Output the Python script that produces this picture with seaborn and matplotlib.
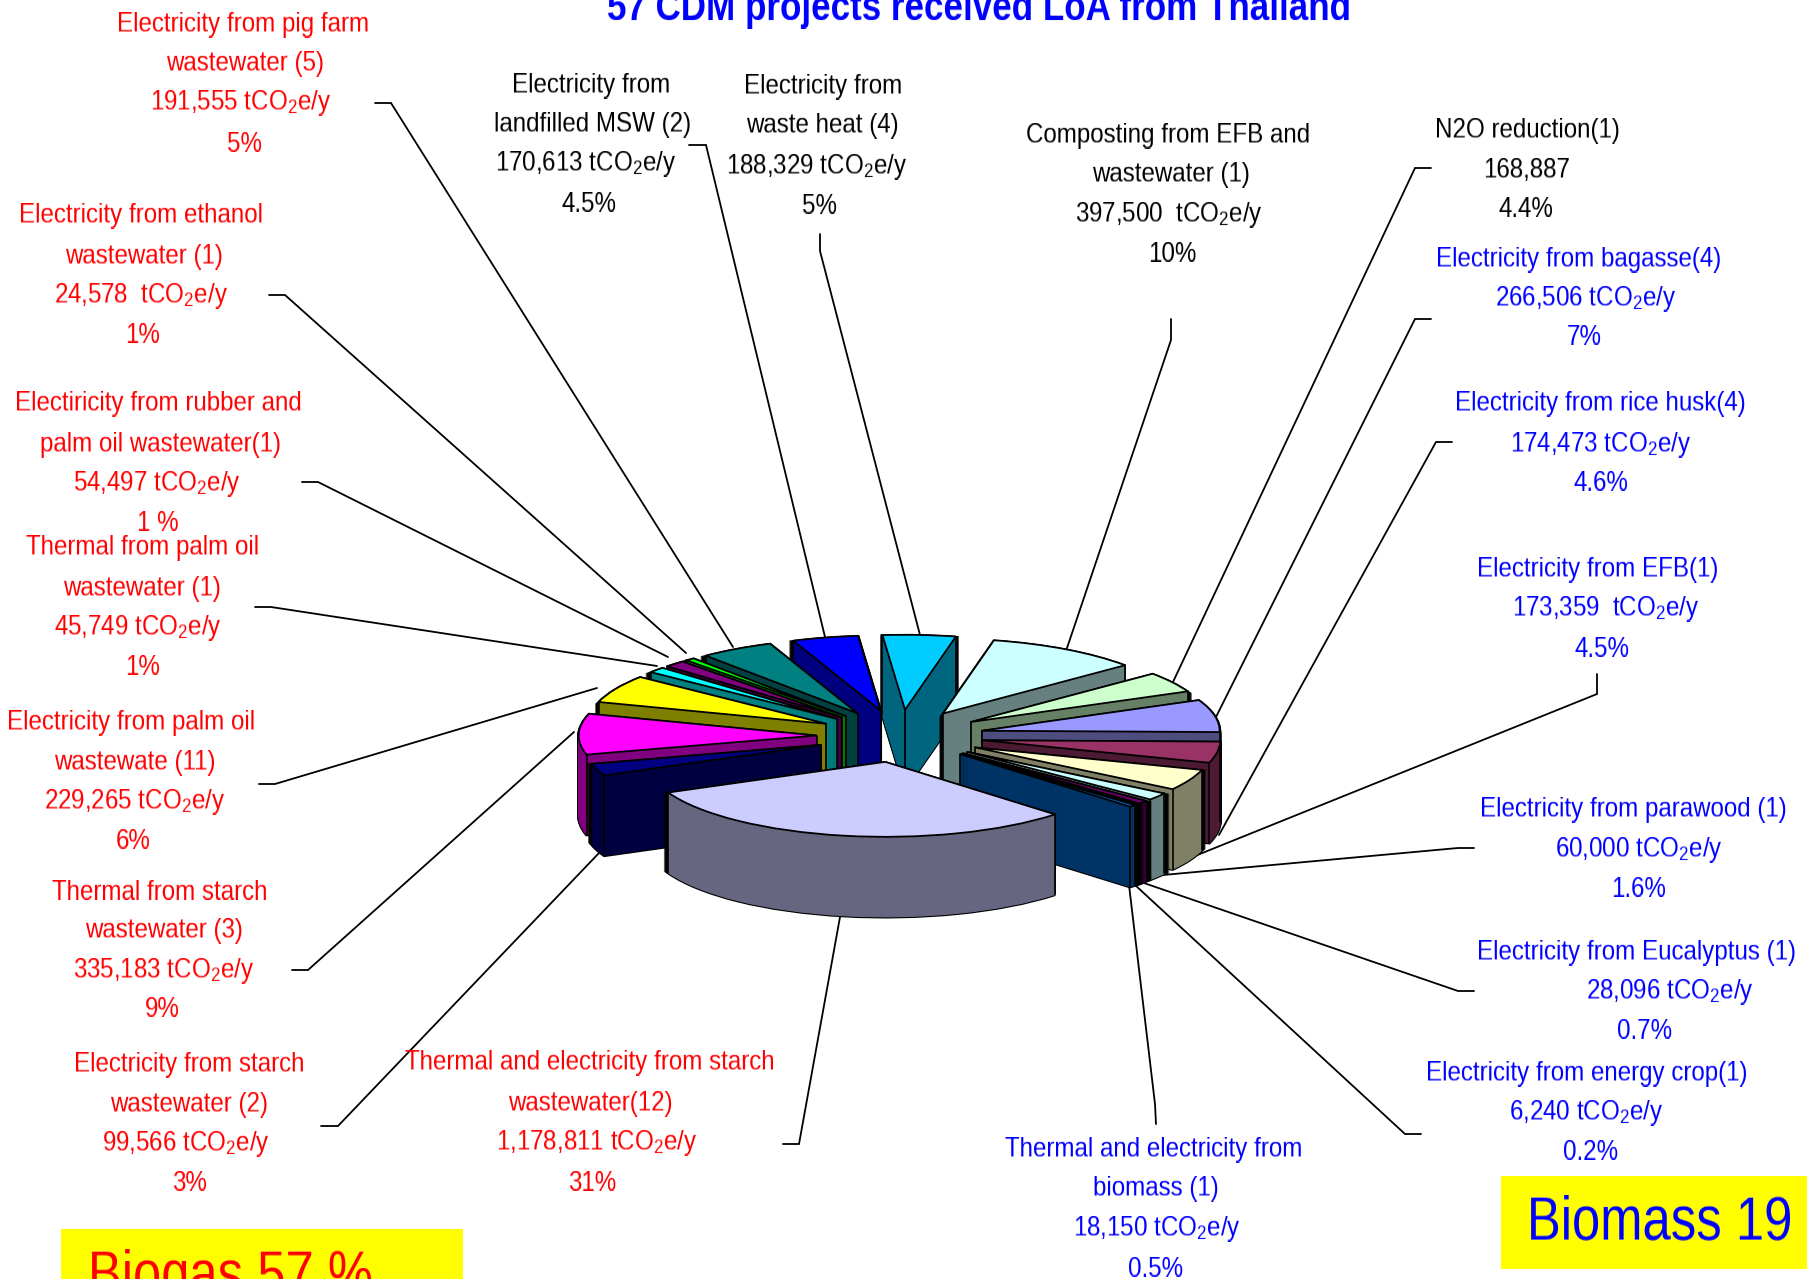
import math
import matplotlib
matplotlib.use("Agg")
import matplotlib.pyplot as plt
from matplotlib.patches import Rectangle
import numpy as np
import seaborn as sns

# ---------- data (counter-clockwise from the big slice's right edge) ----------
categories = ["Thermal and electricity from biomass", "Electricity from energy crop",
              "Electricity from Eucalyptus", "Electricity from parawood", "Electricity from EFB",
              "Electricity from rice husk", "Electricity from bagasse", "N2O reduction",
              "Composting from EFB and wastewater", "Electricity from waste heat",
              "Electricity from landfilled MSW", "Electricity from pig farm wastewater",
              "Electricity from ethanol wastewater", "Electricity from rubber and palm oil wastewater",
              "Thermal from palm oil wastewater", "Electricity from palm oil wastewate",
              "Thermal from starch wastewater", "Electricity from starch wastewater",
              "Thermal and electricity from starch wastewater"]
values = [18150, 6240, 28096, 60000, 173359, 174473, 266506, 168887, 397500, 188329,
          170613, 191555, 24578, 54497, 45749, 229265, 335183, 99566, 1178811]
top_colors = ["#0066CC", "#FF8080", "#660066", "#CCFFFF", "#FFFFCC", "#993366", "#9999FF", "#CCFFCC",
              "#CCFFFF", "#00CCFF", "#0000FF", "#008080", "#00FF00", "#800080", "#00FFFF", "#FFFF00",
              "#FF00FF", "#000080", "#CCCCFF"]

labels_red = [
    ["Electricity from pig farm", "wastewater (5)", "191,555 tCO$_2$e/y", "5%"],
    ["Electricity from ethanol", "wastewater (1)", "24,578  tCO$_2$e/y", "1%"],
    ["Electiricity from rubber and", "palm oil wastewater(1)", "54,497 tCO$_2$e/y", "1 %"],
    ["Thermal from palm oil", "wastewater (1)", "45,749 tCO$_2$e/y", "1%"],
    ["Electricity from palm oil", "wastewate (11)", "229,265 tCO$_2$e/y", "6%"],
    ["Thermal from starch", "wastewater (3)", "335,183 tCO$_2$e/y", "9%"],
    ["Electricity from starch", "wastewater (2)", "99,566 tCO$_2$e/y", "3%"],
    ["Thermal and electricity from starch", "wastewater(12)", "1,178,811 tCO$_2$e/y", "31%"],
]
labels_black = [
    ["Electricity from", "landfilled MSW (2)", "170,613 tCO$_2$e/y", "4.5%"],
    ["Electricity from", "waste heat (4)", "188,329 tCO$_2$e/y", "5%"],
    ["Composting from EFB and", "wastewater (1)", "397,500  tCO$_2$e/y", "10%"],
    ["N2O reduction(1)", "168,887", "4.4%"],
]
labels_blue = [
    ["Electricity from bagasse(4)", "266,506 tCO$_2$e/y", "7%"],
    ["Electricity from rice husk(4)", "174,473 tCO$_2$e/y", "4.6%"],
    ["Electricity from EFB(1)", "173,359  tCO$_2$e/y", "4.5%"],
    ["Electricity from parawood (1)", "60,000 tCO$_2$e/y", "1.6%"],
    ["Electricity from Eucalyptus (1)", "28,096 tCO$_2$e/y", "0.7%"],
    ["Electricity from energy crop(1)", "6,240 tCO$_2$e/y", "0.2%"],
    ["Thermal and electricity from", "biomass (1)", "18,150 tCO$_2$e/y", "0.5%"],
]
title_text = "57 CDM projects received LoA from Thailand"
biogas_text = "Biogas 57 %"
biomass_text = "Biomass 19"

# ---------- layout (pixels of the 1568-wide view: centre x, centre y per line) ----------
pos_red = [
    [(211, 20), (213, 54), (209, 88), (212, 123)],
    [(122, 186), (125, 221), (122, 255), (124, 289)],
    [(137, 349), (139, 384), (136, 418), (137, 452)],
    [(124, 474), (123, 509), (120, 543), (124, 577)],
    [(114, 626), (117, 660), (117, 694), (116, 728)],
    [(139, 772), (142, 806), (142, 841), (141, 874)],
    [(164, 922), (164, 957), (161, 991), (164, 1025)],
    [(512, 921), (512, 956), (518, 990), (514, 1025)],
]
pos_black = [
    [(513, 73), (514, 107), (508, 141), (511, 175)],
    [(714, 74), (714, 108), (709, 143), (711, 177)],
    [(1014, 116), (1016, 150), (1014, 185), (1017, 219)],
    [(1325, 112), (1325, 146), (1324, 180)],
]
pos_blue = [
    [(1370, 224), (1376, 258), (1375, 291)],
    [(1389, 349), (1389, 384), (1389, 417)],
    [(1386, 493), (1393, 527), (1390, 561)],
    [(1417, 701), (1422, 736), (1422, 770)],
    [(1420, 825), (1449, 859), (1427, 893)],
    [(1377, 930), (1376, 964), (1380, 998)],
    [(1001, 996), (1003, 1030), (1004, 1065), (1003, 1099)],
]
# leader lines in full-size pixels
leaders = [
    [(375, 103), (391, 103), (733, 647)],
    [(269, 295), (285, 295), (686, 653)],
    [(302, 482), (318, 482), (668, 657)],
    [(255, 607), (271, 607), (657, 666)],
    [(259, 784), (275, 784), (597, 688)],
    [(292, 970), (308, 970), (574, 732)],
    [(321, 1126), (338, 1126), (599, 853)],
    [(783, 1144), (799, 1144), (840, 917)],
    [(689, 145), (706, 145), (825, 637)],
    [(820, 234), (820, 251), (920, 635)],
    [(1171, 319), (1171, 340), (1066, 651)],
    [(1431, 168), (1415, 168), (1173, 682)],
    [(1431, 319), (1415, 319), (1216, 717)],
    [(1452, 442), (1436, 442), (1219, 835)],
    [(1597, 674), (1597, 694), (1175, 864)],
    [(1474, 848), (1458, 848), (1152, 876)],
    [(1474, 991), (1458, 991), (1141, 882)],
    [(1421, 1134), (1405, 1134), (1135, 885)],
    [(1156, 1124), (1155, 1104), (1129, 885)],
]

W, H = 1807, 1279
SCALE = W / 1568
CX, CY, RX, RY, DEPTH = 900.0, 736.0, 238.0, 75.0, 80
EXPLODE = 0.35
START_ANGLE = 315.5
FONT = "Liberation Sans"

sns.set_theme(style="white")
plt.rcParams["font.family"] = [FONT, "DejaVu Sans"]
plt.rcParams["mathtext.default"] = "regular"


def tall(factor, anchor="center"):
    """agg filter: the reference's type is condensed, so stretch the drawn text vertically."""
    def _filter(img, dpi):
        h = img.shape[0]
        new_h = int(round(h * factor))
        src = np.clip((np.arange(new_h) + 0.5) / factor - 0.5, 0, h - 1)
        low = np.floor(src).astype(int)
        high = np.clip(low + 1, 0, h - 1)
        w = (src - low)[:, None, None]
        out = np.clip(img[low] * (1 - w) + img[high] * w, 0, 1)
        if anchor == "top":
            return out[:h], 0, 0
        if anchor == "bottom":
            return out[-h:], 0, 0
        return out, 0, -(new_h - h) // 2
    return _filter


palette_top = sns.color_palette(top_colors)
palette_side = [tuple(c * 0.5 for c in col) for col in palette_top]

fig = plt.figure(figsize=(W / 100, H / 100), dpi=100, facecolor="white")
ax_px = fig.add_axes([0, 0, 1, 1], zorder=0)
ax_px.set_xlim(0, W)
ax_px.set_ylim(H, 0)
ax_px.axis("off")

# leaders
for pts in leaders:
    ax_px.plot([p[0] for p in pts], [p[1] for p in pts], color="black", lw=1.3, solid_joinstyle="miter")


# labels
def draw_labels(groups, positions, colour):
    for lines, coords in zip(groups, positions):
        for line, (x, y) in zip(lines, coords):
            t = ax_px.text(x * SCALE, y * SCALE + 2, line, color=colour, fontsize=17.4, ha="center", va="center")
            t.set_agg_filter(tall(1.16))


draw_labels(labels_red, pos_red, "#FF0000")
draw_labels(labels_black, pos_black, "#000000")
draw_labels(labels_blue, pos_blue, "#0000FF")

t = ax_px.text(979, 22, title_text, color="#0000FF", fontsize=25.2, fontweight="bold", ha="center", va="baseline")
t.set_agg_filter(tall(1.19, "bottom"))

ax_px.add_patch(Rectangle((61, 1229), 402, 60, facecolor="#FFFF00", edgecolor="none"))
ax_px.add_patch(Rectangle((1501, 1176), 306, 93, facecolor="#FFFF00", edgecolor="none"))
t = ax_px.text(88, 1287, biogas_text, color="#FF0000", fontsize=36.5, ha="left", va="baseline")
t.set_agg_filter(tall(1.18, "top"))
t = ax_px.text(1527, 1236, biomass_text, color="#0000FF", fontsize=36.5, ha="left", va="baseline")
t.set_agg_filter(tall(1.18))

# pie: layered ax.pie calls in a squashed data space
ax = fig.add_axes([0, 0, 1, 1], zorder=1)
ax.patch.set_alpha(0)
total = float(sum(values))
fracs = [v / total for v in values]
mids, a = [], START_ANGLE
for f in fracs:
    mids.append(a + f * 180.0)
    a += f * 360.0
order = sorted(range(len(values)), key=lambda i: -math.sin(math.radians(mids[i])))
rank = {idx: r for r, idx in enumerate(order)}
explode = [EXPLODE] * len(values)


def layer(d, colours, **kw):
    wedges, _ = ax.pie(values, explode=explode, colors=colours, startangle=START_ANGLE,
                       center=(0, -d / RY), radius=1.0, labeldistance=None, **kw)
    return wedges


for d in range(DEPTH, 0, -1):
    for i, w in enumerate(layer(d, ["black"] * len(values),
                                wedgeprops=dict(edgecolor="black", linewidth=2.4))):
        w.set_zorder(10 + rank[i] * 10)
    for i, w in enumerate(layer(d, palette_side, wedgeprops=dict(linewidth=0.8))):
        w.set_edgecolor(palette_side[i])
        w.set_zorder(11 + rank[i] * 10)

top = layer(0, palette_top, wedgeprops=dict(edgecolor="black", linewidth=1.3, joinstyle="miter"))
for i, w in enumerate(top):
    w.set_zorder(13 + rank[i] * 10)
    x0, y0 = w.center
    t1, t2 = math.radians(w.theta1), math.radians(w.theta2)
    wall1 = -math.cos(t1) < 0   # radial wall at theta1 faces the viewer
    wall2 = math.cos(t2) < 0    # radial wall at theta2 faces the viewer
    edges = []
    if wall1 or wall2:
        edges.append((x0, y0))
    if wall1 or math.sin(t1) < 0:
        edges.append((x0 + math.cos(t1), y0 + math.sin(t1)))
    if wall2 or math.sin(t2) < 0:
        edges.append((x0 + math.cos(t2), y0 + math.sin(t2)))
    for ex, ey in edges:
        ax.plot([ex, ex], [ey, ey - DEPTH / RY], color="black", lw=1.2, zorder=12 + rank[i] * 10)

ax.set_aspect("auto")
ax.set_xlim((0 - CX) / RX, (W - CX) / RX)
ax.set_ylim((CY - H) / RY, CY / RY)
ax.axis("off")

fig.savefig("out.png", dpi=100, facecolor="white")
